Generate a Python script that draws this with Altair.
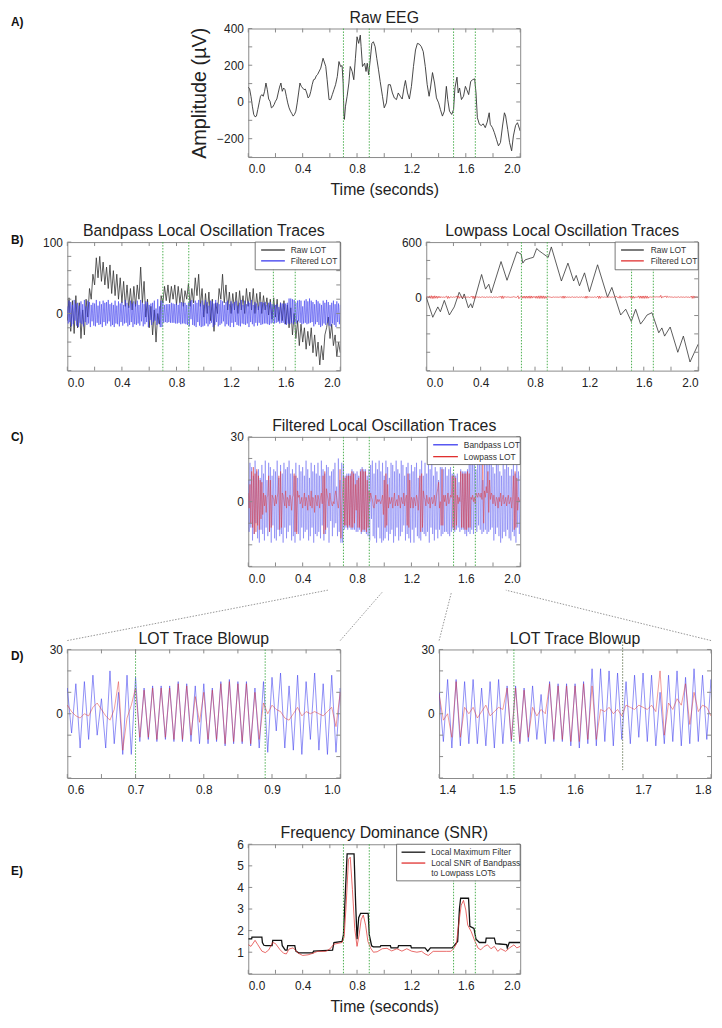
import altair as alt
import numpy as np
import pandas as pd

FONT = "Liberation Sans"
INK = "#222222"
FRAME = "#8a8a8a"
TICKC = "#8a8a8a"
GREEN = "#4caf50"
CONN = "#7a7a7a"
BLUE = "#3b3bef"
RED = "#e0302f"
BLACK = "#333333"

# ---------------- data ----------------
EVENTS = [0.70, 0.89, 1.51, 1.67]
ZOOM_L = [0.6, 1.0]
ZOOM_R = [1.4, 1.8]

# Raw EEG (A)
eeg_t = [0.00, 0.01, 0.02, 0.03, 0.04, 0.05, 0.06, 0.07, 0.08, 0.09, 0.10, 0.11, 0.12, 0.13, 0.14,
         0.15, 0.16, 0.17, 0.18, 0.19, 0.20, 0.21, 0.22, 0.23, 0.24, 0.25, 0.26, 0.27, 0.28, 0.29,
         0.30, 0.31, 0.32, 0.33, 0.34, 0.35, 0.36, 0.37, 0.38, 0.39, 0.40, 0.41, 0.42, 0.43, 0.44,
         0.45, 0.46, 0.47, 0.48, 0.49, 0.50, 0.51, 0.533, 0.55, 0.57, 0.58, 0.594, 0.606, 0.618,
         0.63, 0.642, 0.655, 0.667, 0.679, 0.69, 0.698, 0.703, 0.707, 0.715, 0.727, 0.74, 0.75,
         0.764, 0.776, 0.788, 0.80, 0.812, 0.824, 0.83, 0.84, 0.856, 0.866, 0.875, 0.885, 0.897,
         0.909, 0.92, 0.933, 0.945, 0.958, 0.97, 0.987, 1.00, 1.016, 1.03, 1.045, 1.06, 1.074,
         1.09, 1.103, 1.118, 1.132, 1.147, 1.156, 1.171, 1.185, 1.20, 1.215, 1.23, 1.244, 1.258,
         1.273, 1.287, 1.302, 1.316, 1.33, 1.34, 1.355, 1.37, 1.384, 1.40, 1.413, 1.428, 1.442,
         1.457, 1.467, 1.48, 1.496, 1.51, 1.52, 1.535, 1.544, 1.554, 1.568, 1.583, 1.597, 1.607,
         1.621, 1.636, 1.65, 1.665, 1.675, 1.685, 1.70, 1.714, 1.728, 1.743, 1.757, 1.772, 1.78,
         1.796, 1.81, 1.825, 1.84, 1.855, 1.87, 1.884, 1.893, 1.908, 1.922, 1.937, 1.95, 1.966,
         1.98, 2.00]
eeg_v = [81, 70, 30, -23, -68, -81, -77, -41, -5, 31, 40, 31, 58, 103, 67,
         16, 4, -32, -27, -14, 4, 16, 49, 81, 103, 58, 76, 67, 31, -5,
         -32, -50, -63, -77, -68, -50, -5, 49, 103, 85, 76, 67, 70, 49, 22,
         31, 58, 94, 121, 124, 142, 150, 184, 238, 193, 121, 13, 13, 40,
         67, 94, 139, 220, 193, 198, 100, -59, -95, -23, 31, 103, 193,
         166, 121, 238, 355, 319, 364, 301, 193, 211, 166, 211, 148, 229,
         319, 328, 301, 238, 175, 112, 31, -32, -5, 94, 94, 49, 22,
         13, 49, 31, 16, 85, 117, 49, 16, 85, 193, 283, 319, 315,
         301, 274, 193, 94, 31, 76, 160, 103, 22, -5, -41, -77, -50,
         85, 13, -50, -68, -41, 76, 135, 49, 76, 13, 31, 85, 67,
         40, 112, 121, 126, 49, -86, -122, -128, -119, -140, -110, -59, -122,
         -140, -167, -203, -239, -221, -131, -59, -77, -149, -221, -266, -185, -128,
         -113, -158]

# Raw bandpass LOT (B left, black), sampled at 80 Hz
RBP_FS = 80
raw_bp = [-10, 22, -25, 18, -28, 25, -20, 15,
          -35, 5, -30, 20, -5, 35, 20, 55,
          40, 78, 50, 80, 45, 72, 40, 65,
          35, 68, 28, 60, 25, 55, 20, 50,
          15, 45, 10, 40, 8, 35, 5, 38,
          10, 40, 20, 65, 15, 45, -5, 20,
          -20, 10, -30, 5, -40, 0, -15, 25,
          15, 38, 18, 40, 15, 38, 20, 40,
          12, 38, 15, 35, 10, 32, 20, 42,
          10, 35, 15, 50, 25, 55, 10, 35,
          -5, 28, 0, 30, -10, 20, -25, 15,
          0, 35, 20, 55, 15, 40, 5, 30,
          0, 28, 5, 30, 0, 32, 5, 25,
          0, 35, 10, 30, 5, 35, 0, 28,
          5, 30, 0, 25, 5, 22, -2, 20,
          -8, 22, -5, 20, -10, 15, -10, 18,
          -15, 12, -20, 8, -30, 0, -35, -10,
          -45, -15, -40, -20, -50, -25, -45, -20,
          -55, -30, -60, -40, -72, -45, -65, -30,
          -20, -5, -35, -15, -45, -30, -60, -40,
          -55]

# Raw lowpass LOT (B right, black) vertices
raw_lp_t = [0, 0.048, 0.085, 0.104, 0.133, 0.17, 0.206, 0.242, 0.267, 0.279, 0.31, 0.327, 0.339,
            0.407, 0.436, 0.46, 0.478, 0.55, 0.594, 0.667, 0.698, 0.71, 0.727, 0.764, 0.788,
            0.812, 0.83, 0.856, 0.873, 0.897, 0.92, 0.994, 1.042, 1.084, 1.103, 1.127, 1.164,
            1.2, 1.26, 1.333, 1.365, 1.43, 1.467, 1.508, 1.54, 1.576, 1.6, 1.624, 1.66, 1.71,
            1.733, 1.753, 1.794, 1.85, 1.891, 1.94, 2.0]
raw_lp_v = [0, -219, -106, -159, -35, -194, -106, 53, -18, 35, -116, -71, -116,
            247, 88, 141, 46, 388, 184, 494, 469, 371, 406, 424, 434,
            530, 505, 477, 459, 434, 547, 176, 371, 176, 237, 124, 265,
            60, 353, 0, 106, -194, -131, -265, -131, -293, -247, -194, -169, -388,
            -335, -424, -325, -600, -424, -706, -512]

# Filtered traces (bandpass = blue, lowpass = red), sampled at 160 Hz
LOT_FS = 160
bp = [10, -14, 18, -12, 16, -18, 12, -15, 19, -10, 14, -17, 15, -19, 11, -13,
      17, -15, 13, -18, 19, -12, 10, -16, 18, -14, 16, -19, 12, -11, 15, -17,
      14, -18, 19, -13, 11, -16, 17, -15, 13, -19, 18, -12, 15, -17, 16, -14,
      19, -11, 13, -18, 15, -16, 12, -19, 18, -14, 11, -15, 17, -18, 14, -12,
      16, -17, 12, -14, 19, -13, 15, -18, 11, -16, 18, -12, 14, -19, 17, -15,
      13, -16, 18, -14, 12, -17, 19, -11, 15, -18, 13, -15, 17, -12, 16, -19,
      12, -9, 14, -16, 15, -12, 18, -10, 7, -16, 20, -14, 10, -19, 18, -19,
      17, -13, 12, -12, 13, -13, 13, -12, 13, -13, 15, -13, 14, -13, 13, -14,
      14, -14, 12, -13, 15, -15, 16, -14, 15, -14, 15, -15, 12, -16, 15, -18,
      17, -8, 19, -16, 13, -17, 18, -19, 15, -12, 19, -17, 14, -19, 18, -18,
      12, -17, 19, -14, 16, -18, 11, -15, 18, -13, 17, -19, 14, -16, 19, -12,
      15, -18, 13, -16, 19, -14, 17, -11, 12, -18, 16, -15, 18, -17, 13, -19,
      17, -13, 14, -19, 16, -12, 18, -16, 11, -17, 15, -18, 19, -14, 12, -15,
      18, -16, 13, -14, 17, -19, 15, -12, 19, -15, 12, -18, 16, -13, 14, -17,
      10, -13, 16, -16, 16, -15, 15, -14, 16, -14, 12, -15, 15, -16, 16, -14,
      13, -13, 13, -14, 12, -13, 13, -12, 9, -14, 15, -13, 14, -13, 14, -15,
      14, -16, 15, -14, 21, -15, 21, -13, 20, -15, 19, -12, 15, -14, 18, -11,
      19, -13, 18, -15, 10, -14, 18, -13, 20, -15, 17, -14, 21, -13, 18, -12,
      16, -18, 13, -15, 19, -12, 17, -16, 14, -19, 12, -17, 18, -14, 15, -16,
      19, -13, 16, -17, 12, -18, 15, -14, 18, -16, 13, -19, 17, -12, 14, -15,
      12]
lp = [4, -3, 8, -10, 14, -12, 16, -15, 13, -14, 15, -11, 12, -13, 10, -8,
      9, -6, 4, -2, 3, -5, 2, 3, 12, -14, 10, -12, 3, 2, 1, -2,
      3, -1, 2, 4, 12, -13, 14, -12, 4, 3, 0, -2, 5, -3, 2, 1,
      -2, 3, 1, -4, 2, 3, 13, -14, 12, -15, 5, 2, 3, -1, 0, 2,
      -3, 1, 4, -2, 2, 0, -4, 3, 1, -2, 5, -3, 2, 1, -5, 3,
      0, -2, 3, 1, -3, 2, 4, -1, 12, -15, 14, -13, 6, 3, 1, -2,
      4, 1, -1, -2, 0, -1, 3, 5, 2, -1, -3, 2, 15, -17, -2, 4,
      12, -11, 11, -11, 12, -12, 12, -11, 12, -12, 14, -12, 13, -10, 8, -4,
      10, -12, 11, -12, 14, -14, 15, -13, 14, -13, 14, -14, 10, -12, 5, 0,
      4, 2, 1, -2, -3, 0, 3, -1, 1, 0, 1, 0, -1, 1, 3, -6,
      10, -12, 13, -11, 8, -3, 2, -1, 0, 2, -3, 1, 4, -2, 0, 1,
      -2, 3, 1, -3, 2, 0, -1, 4, -2, 1, 3, -11, 13, -12, 10, -3,
      2, 1, -3, 2, 0, -2, 3, 1, -4, 2, 12, -14, 13, -12, 5, 2,
      1, -2, 3, 0, -1, 2, -3, 1, 2, -1, 0, 3, -2, 1, 4, 6,
      9, -3, 0, -11, 15, -11, 3, 0, 3, -2, 1, 4, -1, 1, 3, 2,
      12, -12, 12, -13, 11, -11, 3, -1, 2, 0, 14, -12, 13, -12, 13, -13,
      13, -13, 14, -12, 13, -12, 2, 1, 3, 0, 2, -1, 4, 3, 2, 4,
      3, 2, 4, 1, 20, -10, 5, 2, 7, 4, 14, -5, 10, 1, 4, 3,
      -1, 3, 0, -2, 2, 1, -3, 2, 0, 4, -2, 1, 3, -1, 0, 2,
      -2, 1, 3, -1, 0, 2, -3, 1, 12, -13, 14, -12, 11, -4, 2, 0,
      1]

# SNR (E)
snr_max_t = [0, 0.025, 0.027, 0.1, 0.104, 0.115, 0.13, 0.175, 0.18, 0.245, 0.25, 0.272, 0.285,
             0.29, 0.342, 0.35, 0.37, 0.475, 0.48, 0.62, 0.63, 0.69, 0.7, 0.715, 0.727, 0.778,
             0.79, 0.8, 0.812, 0.826, 0.882, 0.89, 0.907, 0.92, 0.97, 0.975, 1.045, 1.05, 1.1,
             1.105, 1.195, 1.2, 1.3, 1.32, 1.34, 1.5, 1.52, 1.54, 1.553, 1.562, 1.62, 1.63,
             1.66, 1.675, 1.7, 1.745, 1.75, 1.81, 1.82, 1.85, 1.9, 1.905, 1.92, 2.0]
snr_max_v = [1.62, 1.62, 1.70, 1.70, 1.45, 1.32, 1.3, 1.3, 1.55, 1.55, 1.3, 1.1, 1.1,
             1.3, 1.3, 1.05, 0.97, 0.97, 1.05, 1.1, 1.45, 1.5, 1.8, 3.9, 5.55, 5.55,
             3.2, 1.6, 2.6, 2.8, 2.8, 1.8, 1.3, 1.25, 1.25, 1.3, 1.3, 1.2, 1.2,
             1.3, 1.3, 1.2, 1.2, 1.05, 1.2, 1.2, 1.35, 1.5, 3.0, 3.5, 3.5, 2.2,
             2.1, 1.6, 1.45, 1.45, 1.65, 1.65, 1.4, 1.38, 1.35, 1.2, 1.45, 1.45]
snr_t = [0, 0.02, 0.05, 0.07, 0.1, 0.125, 0.15, 0.18, 0.2, 0.233, 0.26, 0.28, 0.3, 0.33, 0.366,
         0.4, 0.44, 0.475, 0.51, 0.57, 0.6, 0.63, 0.69, 0.705, 0.72, 0.737, 0.75, 0.766, 0.783,
         0.8, 0.815, 0.83, 0.846, 0.863, 0.88, 0.9, 0.92, 0.948, 0.985, 1.02, 1.055, 1.093,
         1.13, 1.166, 1.2, 1.24, 1.275, 1.3, 1.324, 1.36, 1.41, 1.457, 1.49, 1.51, 1.53, 1.55,
         1.566, 1.583, 1.6, 1.614, 1.64, 1.663, 1.69, 1.71, 1.735, 1.76, 1.785, 1.81, 1.835,
         1.857, 1.893, 1.92, 1.954, 1.975, 2.0]
snr_v = [1.35, 1.27, 1.55, 1.35, 1.05, 0.98, 1.1, 1.45, 1.4, 1.12, 0.95, 0.92, 1.15, 1.2, 0.96,
         0.85, 0.88, 0.95, 1.04, 1.04, 1.15, 1.37, 1.45, 1.7, 3.2, 5.3, 5.4, 3.9, 2.1,
         1.27, 1.8, 2.5, 2.72, 2.25, 1.5, 1.19, 1.0, 1.02, 1.16, 1.18, 1.06, 1.16,
         1.05, 1.16, 1.05, 1.0, 1.04, 0.92, 0.85, 1.04, 1.04, 1.04, 1.04, 1.16, 1.37, 2.41,
         3.18, 3.4, 2.95, 2.26, 1.95, 1.57, 1.19, 1.11, 1.27, 1.34, 1.16, 1.27, 1.04,
         1.16, 1.04, 1.19, 1.34, 1.2, 1.27]

# ---------------- layout constants (page pixels) ----------------
PW, PWL, PH, PH2 = 275, 276, 130, 131
LEFT_X, CENTER_X, RIGHT_X = 67, 248, 428
ROW_A, ROW_B, ROW_C, ROW_D, ROW_E = 28, 242, 437, 650, 845
LETTER_X = 10
PAGE_TOP = 8
SPLIT_AB, SPLIT_BC, SPLIT_CD, SPLIT_DE = 214, 400, 589, 812
SPLIT_LR = 373      # boundary between left and right panels (rows B, D)
SPLIT_LC = 185      # boundary between letter spacer and centred panel (rows A, C, E)

# ---------------- frames ----------------
df_eeg = pd.DataFrame({"x": eeg_t, "y": eeg_v})
df_rbp = pd.DataFrame({"x": np.arange(len(raw_bp)) / RBP_FS, "y": raw_bp})
df_rlp = pd.DataFrame({"x": raw_lp_t, "y": raw_lp_v})
lot_t = np.arange(len(bp)) / LOT_FS
df_bp = pd.DataFrame({"x": lot_t, "y": bp})
df_lp = pd.DataFrame({"x": lot_t, "y": lp})
df_smax = pd.DataFrame({"x": snr_max_t, "y": snr_max_v})
df_snr = pd.DataFrame({"x": snr_t, "y": snr_v})


def window(df, w):
    return df[(df["x"] >= w[0] - 0.01) & (df["x"] <= w[1] + 0.01)]


ONE = pd.DataFrame({"k": [0]})


def text_at(txt, x, y, size=8.5, weight="normal", color="#333333", align="left", baseline="middle"):
    return alt.Chart(ONE).mark_text(text=txt, align=align, baseline=baseline, font=FONT,
                                    fontSize=size, fontWeight=weight, color=color).encode(
        x=alt.value(x), y=alt.value(y))


def letter(txt, ox, oy, y):
    return text_at(txt, LETTER_X - ox, y - oy, size=12, weight="bold", color="#111111")


def extenders(points):
    return [alt.Chart(ONE).mark_point(size=1, opacity=0, filled=True).encode(
        x=alt.value(x), y=alt.value(y)) for x, y in points]


def legend(x0, y0, w, h, items, lx0, lx1, tx):
    L = [alt.Chart(ONE).mark_rect(fill="white", stroke="#555555", strokeWidth=0.8).encode(
        x=alt.value(x0), x2=alt.value(x0 + w), y=alt.value(y0), y2=alt.value(y0 + h))]
    for y, color, label in items:
        if color:
            L.append(alt.Chart(ONE).mark_rule(color=color, strokeWidth=1.3).encode(
                x=alt.value(lx0), x2=alt.value(lx1), y=alt.value(y)))
        L.append(text_at(label, tx, y))
    return L


def connectors(pairs):
    L = []
    for (x1, y1), (x2, y2) in pairs:
        L.append(alt.Chart(ONE).mark_rule(color=CONN, strokeWidth=0.8, strokeDash=[1.5, 1.5]).encode(
            x=alt.value(x1), y=alt.value(y1), x2=alt.value(x2), y2=alt.value(y2)))
    return L


def c_px(t):
    # page x of time t on panel C's axis
    return CENTER_X + PW * t / 2.0


def panel(series, xdom, ydom, xticks, yticks, xlabels, ylabels, width, height, title,
          events, xtitle=None, ytitle=None, extra=(), short_event=None):
    xs = alt.Scale(domain=xdom, nice=False, zero=False)
    ys = alt.Scale(domain=ydom, nice=False, zero=False)
    xax = alt.Axis(values=xlabels, format=".1f", title=xtitle, labelPadding=7,
                   titlePadding=7, titleFontSize=16)
    yax = alt.Axis(values=ylabels, format="d", title=ytitle, labelPadding=5,
                   titlePadding=7, titleFontSize=20)

    def X():
        return alt.X("x:Q", scale=xs, axis=xax)

    def Y():
        return alt.Y("y:Q", scale=ys, axis=yax)

    layers = []
    for df, color, sw, op in series:
        layers.append(alt.Chart(df).mark_line(color=color, strokeWidth=sw, opacity=op,
                                              clip=True).encode(x=X(), y=Y()))
    if events:
        layers.append(alt.Chart(pd.DataFrame({"x": events})).mark_rule(
            color=GREEN, strokeWidth=1, strokeDash=[1.5, 1.5]).encode(x=X()))
    if short_event is not None:
        layers.append(alt.Chart(pd.DataFrame({"x": [short_event]})).mark_rule(
            color="#6f7f60", strokeWidth=1, strokeDash=[1.5, 1.5]).encode(
            x=X(), y=alt.value(-8), y2=alt.value(height - 8)))
    dfx = pd.DataFrame({"x": xticks})
    dfy = pd.DataFrame({"y": yticks})
    tk = dict(color=TICKC, strokeWidth=1)
    layers.append(alt.Chart(dfx).mark_rule(**tk).encode(x=X(), y=alt.value(height), y2=alt.value(height - 4)))
    layers.append(alt.Chart(dfx).mark_rule(**tk).encode(x=X(), y=alt.value(0), y2=alt.value(4)))
    layers.append(alt.Chart(dfy).mark_rule(**tk).encode(y=Y(), x=alt.value(0), x2=alt.value(4)))
    layers.append(alt.Chart(dfy).mark_rule(**tk).encode(y=Y(), x=alt.value(width - 4), x2=alt.value(width)))
    layers.append(text_at(title, width / 2, -6, size=16, color=INK, align="center", baseline="alphabetic"))
    layers.extend(extra)
    return alt.layer(*layers).properties(
        width=width, height=height,
        view=alt.ViewBackground(stroke=FRAME, strokeWidth=1))


def spacer(letter_txt, row_top, letter_y, bottom):
    layers = [letter(letter_txt, LEFT_X, row_top, letter_y)]
    layers += extenders([(SPLIT_LC - LEFT_X, 0), (0, bottom - row_top)])
    return alt.layer(*layers).properties(width=1, height=1,
                                         view=alt.ViewBackground(strokeOpacity=0))


X_TICKS = [0.0, 0.2, 0.4, 0.6, 0.8, 1.0, 1.2, 1.4, 1.6, 1.8, 2.0]
X_LABELS = [0.0, 0.4, 0.8, 1.2, 1.6, 2.0]
Y30 = [-30, -20, -10, 0, 10, 20, 30]

# A
chart_a = panel([(df_eeg, BLACK, 0.9, 1)], [0, 2], [-300, 400], X_TICKS,
                [-300, -200, -100, 0, 100, 200, 300, 400], X_LABELS, [-200, 0, 200, 400],
                PW, PH, "Raw EEG", EVENTS, xtitle="Time (seconds)", ytitle="Amplitude (µV)",
                extra=extenders([(SPLIT_LC - CENTER_X, 0), (0, PAGE_TOP - ROW_A), (0, SPLIT_AB - ROW_A)]))

# B left
chart_bl = panel([(df_rbp, BLACK, 0.8, 1), (df_bp, BLUE, 0.7, 0.8)], [0, 2], [-80, 100], X_TICKS,
                 [-80, -60, -40, -20, 0, 20, 40, 60, 80, 100], X_LABELS, [0, 100],
                 PWL, PH, "Bandpass Local Oscillation Traces", EVENTS,
                 extra=legend(190, 0, 86, 28, [(8, BLACK, "Raw LOT"), (19, BLUE, "Filtered LOT")], 196, 220, 226)
                 + [letter("B)", LEFT_X, ROW_B, 240)]
                 + extenders([(0, SPLIT_AB - ROW_B), (0, SPLIT_BC - ROW_B), (SPLIT_LR - LEFT_X, 0)]))

# B right
chart_br = panel([(df_rlp, BLACK, 0.8, 1), (df_lp, RED, 0.7, 0.9)], [0, 2], [-800, 600], X_TICKS,
                 [-800, -600, -400, -200, 0, 200, 400, 600], X_LABELS, [0, 600],
                 PW, PH, "Lowpass Local Oscillation Traces", EVENTS,
                 extra=legend(191, 0, 84, 28, [(8, BLACK, "Raw LOT"), (19, RED, "Filtered LOT")], 197, 220, 227)
                 + extenders([(SPLIT_LR - RIGHT_X, 0), (0, SPLIT_AB - ROW_B), (0, SPLIT_BC - ROW_B)]))

# C
chart_c = panel([(df_bp, BLUE, 0.6, 0.6), (df_lp, RED, 0.6, 0.75)], [0, 2], [-30, 30], X_TICKS,
                Y30, X_LABELS, [0, 30], PW, PH2, "Filtered Local Oscillation Traces", EVENTS,
                extra=legend(181, 0, 94, 28, [(8, BLUE, "Bandpass LOT"), (20, RED, "Lowpass LOT")], 187, 212, 218)
                + extenders([(SPLIT_LC - CENTER_X, 0), (0, SPLIT_BC - ROW_C), (0, SPLIT_CD - ROW_C)]))

# D (blow-ups, with the zoom connectors up to panel C's axis)
CONN_TOP = ROW_D - 9
DL_TICKS = [0.6, 0.65, 0.7, 0.75, 0.8, 0.85, 0.9, 0.95, 1.0]
DR_TICKS = [1.4, 1.45, 1.5, 1.55, 1.6, 1.65, 1.7, 1.75, 1.8]
conn_l = connectors([((0, CONN_TOP - ROW_D), (c_px(ZOOM_L[0]) - LEFT_X, 590 - ROW_D)),
                     ((PWL, CONN_TOP - ROW_D), (c_px(ZOOM_L[1]) - LEFT_X, 592 - ROW_D))])
conn_r = connectors([((0, CONN_TOP - ROW_D), (c_px(ZOOM_R[0]) - RIGHT_X, 592 - ROW_D)),
                     ((PW, CONN_TOP - ROW_D), (c_px(ZOOM_R[1]) - RIGHT_X, 590 - ROW_D))])
chart_dl = panel([(window(df_bp, ZOOM_L), BLUE, 0.8, 0.7), (window(df_lp, ZOOM_L), RED, 0.8, 0.6)],
                 ZOOM_L, [-30, 30], DL_TICKS, Y30, [0.6, 0.7, 0.8, 0.9, 1.0], [0, 30],
                 PWL, PH, "LOT Trace Blowup", [EVENTS[0], EVENTS[1]],
                 extra=conn_l + [letter("D)", LEFT_X, ROW_D, 657)]
                 + extenders([(0, SPLIT_CD - ROW_D), (0, SPLIT_DE - ROW_D), (SPLIT_LR - LEFT_X, 0)]))
chart_dr = panel([(window(df_bp, ZOOM_R), BLUE, 0.8, 0.7), (window(df_lp, ZOOM_R), RED, 0.8, 0.6)],
                 ZOOM_R, [-30, 30], DR_TICKS, Y30, [1.4, 1.5, 1.6, 1.7, 1.8], [0, 30],
                 PW, PH, "LOT Trace Blowup", [EVENTS[2]], short_event=EVENTS[3],
                 extra=conn_r + extenders([(SPLIT_LR - RIGHT_X, 0), (0, SPLIT_CD - ROW_D),
                                           (0, SPLIT_DE - ROW_D)]))

# E
chart_e = panel([(df_smax, "#111111", 1.3, 1), (df_snr, RED, 0.8, 0.9)], [0, 2], [0, 6], X_TICKS,
                [0, 1, 2, 3, 4, 5, 6], X_LABELS, [1, 2, 3, 4, 5, 6], PW, PH2,
                "Frequency Dominance (SNR)", EVENTS, xtitle="Time (seconds)",
                extra=legend(150, 0, 125, 37,
                             [(8, "#111111", "Local Maximum Filter"),
                              (19, RED, "Local SNR of Bandpass"),
                              (29, None, "to Lowpass LOTs")], 155, 179, 185)
                + extenders([(SPLIT_LC - CENTER_X, 0), (0, SPLIT_DE - ROW_E)]))

row_a = alt.hconcat(spacer("A)", ROW_A, 21, SPLIT_AB), chart_a, spacing=0)
row_b = alt.hconcat(chart_bl, chart_br, spacing=0)
row_c = alt.hconcat(spacer("C)", ROW_C, 437, SPLIT_CD), chart_c, spacing=0)
row_d = alt.hconcat(chart_dl, chart_dr, spacing=0)
row_e = alt.hconcat(spacer("E)", ROW_E, 872, ROW_E + PH2), chart_e, spacing=0)

chart = alt.vconcat(row_a, row_b, row_c, row_d, row_e, spacing=0).properties(
    padding={"left": 2, "top": -6, "right": 2, "bottom": 0}
).configure_axis(
    labelFont=FONT, titleFont=FONT, labelFontSize=12, labelColor=INK, titleColor=INK,
    titleFontWeight="normal", ticks=False, domain=False, grid=False
).configure_view(strokeWidth=1)

chart.save("out.html", embed_options={"renderer": "svg", "actions": False})
